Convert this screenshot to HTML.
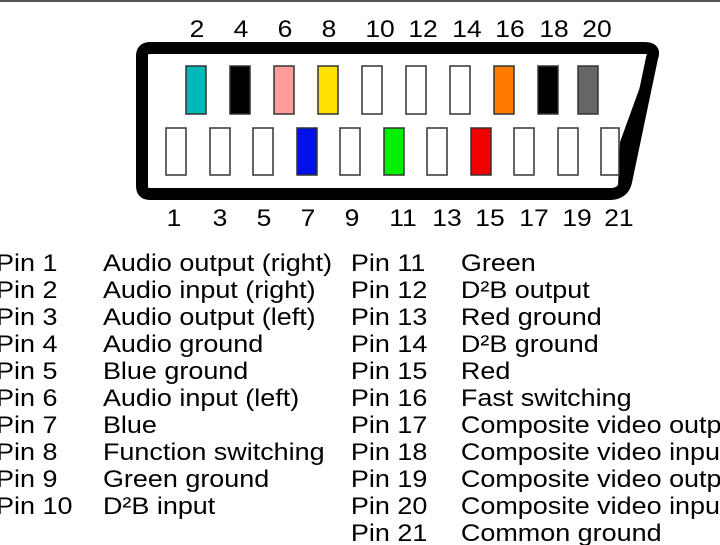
<!DOCTYPE html>
<html><head><style>
html,body{margin:0;padding:0;background:#fff;overflow:hidden}
svg{display:block}
text{font-family:"Liberation Sans",Arial,sans-serif;fill:#000}
</style></head><body>
<svg width="720" height="545" viewBox="0 0 720 545" xmlns="http://www.w3.org/2000/svg">
<rect width="720" height="545" fill="#fff"/>
<rect x="0" y="0" width="720" height="2" fill="#555"/>
<path d="M150,48 L645,48 Q656,48 652,58 L626,182 Q623,194 610,194 L150,194 Q142,194 142,186 L142,56 Q142,48 150,48 Z" fill="none" stroke="#000" stroke-width="12" stroke-linejoin="round"/>
<path d="M652,54 L620,142 L618,186 L628,186 Z" fill="#000"/>
<g stroke="#333" stroke-width="1.5">
<rect x="186" y="66" width="20" height="48" fill="#00b8b8"/>
<rect x="230" y="66" width="20" height="48" fill="#000"/>
<rect x="274" y="66" width="20" height="48" fill="#ff9c9c"/>
<rect x="318" y="66" width="20" height="48" fill="#ffe000"/>
<rect x="362" y="66" width="20" height="48" fill="#fff"/>
<rect x="406" y="66" width="20" height="48" fill="#fff"/>
<rect x="450" y="66" width="20" height="48" fill="#fff"/>
<rect x="494" y="66" width="20" height="48" fill="#ff7a00"/>
<rect x="538" y="66" width="20" height="48" fill="#000"/>
<rect x="578" y="66" width="20" height="48" fill="#666"/>
<rect x="166" y="128" width="20" height="47" fill="#fff"/>
<rect x="210" y="128" width="20" height="47" fill="#fff"/>
<rect x="253" y="128" width="20" height="47" fill="#fff"/>
<rect x="297" y="128" width="20" height="47" fill="#0010e8"/>
<rect x="340" y="128" width="20" height="47" fill="#fff"/>
<rect x="384" y="128" width="20" height="47" fill="#00f000"/>
<rect x="427" y="128" width="20" height="47" fill="#fff"/>
<rect x="471" y="128" width="20" height="47" fill="#f00000"/>
<rect x="514" y="128" width="20" height="47" fill="#fff"/>
<rect x="558" y="128" width="20" height="47" fill="#fff"/>
<rect x="601" y="128" width="18" height="47" fill="#fff"/>
</g>
<g font-size="24.5" text-anchor="middle" transform="scale(1.08,1)">
<text x="182.4" y="37">2</text><text x="223.1" y="37">4</text><text x="263.9" y="37">6</text><text x="304.6" y="37">8</text>
<text x="351.9" y="37">10</text><text x="391.7" y="37">12</text><text x="432.4" y="37">14</text><text x="472.2" y="37">16</text>
<text x="513" y="37">18</text><text x="552.8" y="37">20</text>
<text x="161.1" y="226">1</text><text x="203.7" y="226">3</text><text x="244.4" y="226">5</text><text x="285.2" y="226">7</text>
<text x="325.9" y="226">9</text><text x="373.1" y="226">11</text><text x="413.9" y="226">13</text><text x="453.7" y="226">15</text>
<text x="494.4" y="226">17</text><text x="534.3" y="226">19</text><text x="573.1" y="226">21</text>
</g>
<g font-size="24.5" transform="scale(1.1,1)">
<text x="-3.6" y="271">Pin 1</text><text x="93.6" y="271">Audio output (right)</text>
<text x="-3.6" y="298">Pin 2</text><text x="93.6" y="298">Audio input (right)</text>
<text x="-3.6" y="325">Pin 3</text><text x="93.6" y="325">Audio output (left)</text>
<text x="-3.6" y="352">Pin 4</text><text x="93.6" y="352">Audio ground</text>
<text x="-3.6" y="379">Pin 5</text><text x="93.6" y="379">Blue ground</text>
<text x="-3.6" y="406">Pin 6</text><text x="93.6" y="406">Audio input (left)</text>
<text x="-3.6" y="433">Pin 7</text><text x="93.6" y="433">Blue</text>
<text x="-3.6" y="460">Pin 8</text><text x="93.6" y="460">Function switching</text>
<text x="-3.6" y="487">Pin 9</text><text x="93.6" y="487">Green ground</text>
<text x="-3.6" y="514">Pin 10</text><text x="93.6" y="514">D²B input</text>
<text x="319" y="271">Pin 11</text><text x="419" y="271">Green</text>
<text x="319" y="298">Pin 12</text><text x="419" y="298">D²B output</text>
<text x="319" y="325">Pin 13</text><text x="419" y="325">Red ground</text>
<text x="319" y="352">Pin 14</text><text x="419" y="352">D²B ground</text>
<text x="319" y="379">Pin 15</text><text x="419" y="379">Red</text>
<text x="319" y="406">Pin 16</text><text x="419" y="406">Fast switching</text>
<text x="319" y="433">Pin 17</text><text x="419" y="433">Composite video output</text>
<text x="319" y="460">Pin 18</text><text x="419" y="460">Composite video input</text>
<text x="319" y="487">Pin 19</text><text x="419" y="487">Composite video output</text>
<text x="319" y="514">Pin 20</text><text x="419" y="514">Composite video input</text>
<text x="319" y="541">Pin 21</text><text x="419" y="541">Common ground</text>
</g>
</svg>
</body></html>
